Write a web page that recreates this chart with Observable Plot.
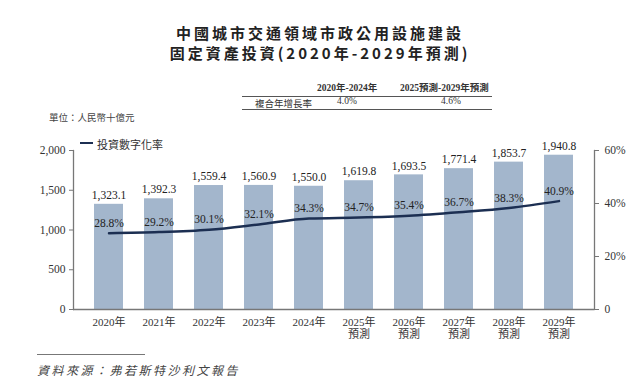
<!DOCTYPE html>
<html>
<head>
<meta charset="utf-8">
<script src="https://cdn.jsdelivr.net/npm/d3@7"></script>
<script src="https://cdn.jsdelivr.net/npm/@observablehq/plot@0.6"></script>
<style>
  body { margin: 0; background: #fff; width: 640px; height: 380px; position: relative; overflow: hidden;
         font-family: "Liberation Serif", "Noto Sans CJK TC", serif; color: #333; }
  .abs { position: absolute; white-space: nowrap; }
  .title { left: 0; width: 640px; text-align: center; font-family: "Noto Sans CJK TC", sans-serif; font-weight: 700;
           font-size: 15px; letter-spacing: 3px; color: #222; }
  .tbl { font-size: 9.5px; color: #333; }
  #chart { position: absolute; left: 0; top: 135px; }
</style>
</head>
<body>
<div class="abs title" style="top:22px;">中國城市交通領域市政公用設施建設</div>
<div class="abs title" style="top:42px;">固定資產投資(2020年-2029年預測)</div>

<div class="abs tbl" style="left:317px;top:80px;font-weight:700;">2020年-2024年</div>
<div class="abs tbl" style="left:400px;top:80px;font-weight:700;">2025預測-2029年預測</div>
<div class="abs" style="left:242px;top:96px;width:250px;border-top:1px solid #555;"></div>
<div class="abs tbl" style="left:255px;top:96px;font-family:'Noto Sans CJK TC',sans-serif;">複合年增長率</div>
<div class="abs tbl" style="left:337px;top:96px;">4.0%</div>
<div class="abs tbl" style="left:441px;top:96px;">4.6%</div>
<div class="abs" style="left:242px;top:109px;width:250px;border-top:1px solid #555;"></div>

<div class="abs" style="left:49px;top:110px;font-size:9.5px;font-family:'Noto Sans CJK TC',sans-serif;color:#444;">單位：人民幣十億元</div>

<div id="chart"></div>

<div class="abs" style="left:80px;top:142px;width:13px;border-top:2.5px solid #1c2f52;"></div>
<div class="abs" style="left:97px;top:136px;font-size:11px;color:#333;">投資數字化率</div>

<div class="abs" style="left:37px;top:354px;width:108px;border-top:1px solid #777;"></div>
<div class="abs" style="left:37px;top:361px;font-size:12px;font-style:italic;letter-spacing:2.5px;color:#444;">資料來源：弗若斯特沙利文報告</div>

<script>
const years = ["2020","2021","2022","2023","2024","2025","2026","2027","2028","2029"];
const xLabels = ["2020年","2021年","2022年","2023年","2024年","2025年\n預測","2026年\n預測","2027年\n預測","2028年\n預測","2029年\n預測"];
const investment = [1323.1, 1392.3, 1559.4, 1560.9, 1550.0, 1619.8, 1693.5, 1771.4, 1853.7, 1940.8];
const digitalRate = [28.8, 29.2, 30.1, 32.1, 34.3, 34.7, 35.4, 36.7, 38.3, 40.9];
const leftTicks = [0, 500, 1000, 1500, 2000];
const rightTicks = [0, 20, 40, 60];
const rightTickLabels = ["0", "20%", "40%", "60%"];

const leftMax = 2000, rightMax = 60;
const toLeft = p => p / rightMax * leftMax;

const rows = years.map((y, i) => ({year: y, label: xLabels[i], value: investment[i], rate: digitalRate[i]}));
const labelOf = new Map(years.map((y, i) => [y, xLabels[i]]));

const chart = Plot.plot({
  width: 640,
  height: 220,
  marginTop: 15,
  marginBottom: 46,
  marginLeft: 73,
  marginRight: 46,
  style: {fontFamily: "'Liberation Serif', 'Noto Sans CJK TC', serif", fontSize: "11.5px", color: "#333", background: "transparent"},
  x: {domain: years, padding: 0.42, label: null},
  y: {domain: [0, leftMax], label: null},
  marks: [
    Plot.barY(rows, {x: "year", y: "value", fill: "#a3b6cc"}),
    Plot.text(rows, {x: "year", y: "value", text: d => d3.format(",.1f")(d.value), dy: -9, fontSize: 11.5, fill: "#222"}),
    Plot.line(rows, {x: "year", y: d => toLeft(d.rate), stroke: "#1c2f52", strokeWidth: 2.5, curve: "monotone-x"}),
    Plot.text(rows, {x: "year", y: d => toLeft(d.rate), text: d => d.rate.toFixed(1) + "%", dy: -10, fontSize: 11.5, fill: "#222"}),
    Plot.frame({anchor: "left", stroke: "#777", strokeWidth: 1.3}),
    Plot.frame({anchor: "right", stroke: "#777", strokeWidth: 1.3}),
    Plot.ruleY([0], {stroke: "#777", strokeWidth: 1.5}),
    Plot.axisY(leftTicks, {anchor: "left", tickSize: 4, tickPadding: 4, stroke: "#777", tickFormat: d3.format(","), label: null}),
    Plot.axisY(rightTicks.map(toLeft), {anchor: "right", tickSize: 4, tickPadding: 6, stroke: "#777",
      tickFormat: (d) => rightTickLabels[rightTicks.indexOf(Math.round(d * rightMax / leftMax))], label: null}),
    Plot.axisX({tickSize: 0, tickPadding: 8, tickFormat: d => labelOf.get(d), label: null, lineHeight: 1.1, fontSize: 11})
  ]
});
document.getElementById("chart").appendChild(chart);
</script>
</body>
</html>
